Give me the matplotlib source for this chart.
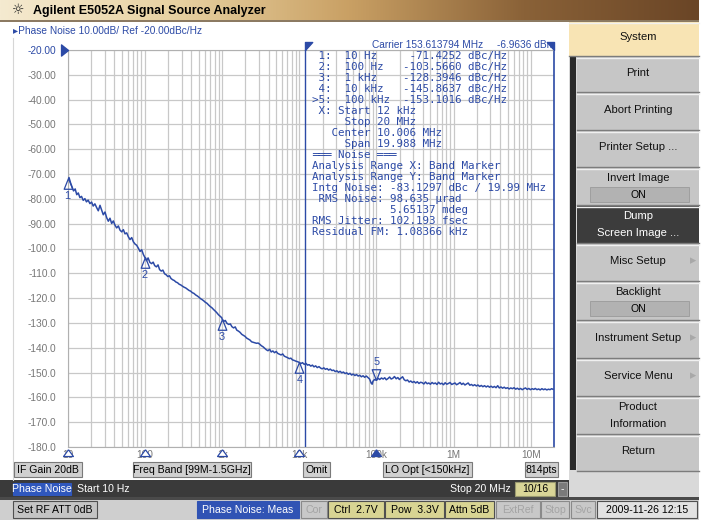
import numpy as np
import matplotlib
matplotlib.use('Agg')
import matplotlib.pyplot as plt
from matplotlib.patches import Rectangle
from matplotlib.path import Path
from matplotlib.colors import LinearSegmentedColormap

plt.rcParams['font.family'] = ['Liberation Sans', 'DejaVu Sans']

# phase noise trace (offset in Hz, level in dBc/Hz)
offset_hz = [
    10.0, 10.4, 10.9, 11.4, 11.9, 12.5, 13.1, 13.7, 14.4, 15.1, 15.9, 16.7,
    17.5, 18.4, 19.4, 20.4, 21.4, 22.5, 23.7, 24.9, 26.2, 27.5, 28.9, 30.4,
    32.0, 33.6, 35.3, 37.1, 39.0, 41.0, 43.1, 45.3, 47.6, 50.1, 52.6, 55.3,
    58.1, 61.1, 64.2, 67.5, 70.9, 74.5, 78.3, 82.3, 86.5, 90.9, 95.5, 100.0,
    105, 110, 116, 122, 128, 134, 141, 148, 155, 163, 171, 180, 189, 198,
    208, 218, 229, 240, 252, 265, 278, 292, 307, 322, 338, 355, 373, 392,
    411, 432, 454, 476, 500, 525, 551, 579, 608, 638, 670, 703, 739, 776,
    814, 855, 898, 943, 990, 1000,
    1050, 1100, 1160, 1220, 1280, 1340, 1410, 1480, 1550, 1630, 1710, 1800,
    1890, 1980, 2080, 2190, 2300, 2410, 2530, 2660, 2790, 2930, 3080, 3230,
    3390, 3560, 3740, 3930, 4130, 4330, 4550, 4780, 5020, 5270, 5530, 5810,
    6100, 6400, 6720, 7060, 7410, 7780, 8170, 8580, 9010, 9460, 10000,
    10500, 11000, 11600, 12200, 12800, 13400, 14100, 14800, 15500, 16300,
    17100, 18000, 18900, 19800, 20800, 21800, 22900, 24000, 25200, 26500,
    27800, 29200, 30700, 32200, 33800, 35500, 37300, 39200, 41100, 43200,
    45400, 47600, 50000, 52500, 55100, 57900, 60800, 63800, 67000, 70300,
    73900, 77600, 81400, 85500, 88000, 90000, 94300, 100000,
    105e3, 110e3, 116e3, 122e3, 128e3, 134e3, 141e3, 148e3, 155e3, 163e3,
    171e3, 180e3, 189e3, 198e3, 208e3, 218e3, 229e3, 240e3, 252e3, 265e3,
    278e3, 292e3, 307e3, 322e3, 338e3, 355e3, 373e3, 392e3, 411e3, 432e3,
    454e3, 476e3, 500e3, 525e3, 551e3, 579e3, 608e3, 638e3, 670e3, 703e3,
    739e3, 776e3, 814e3, 855e3, 898e3, 943e3, 990e3,
    1.04e6, 1.09e6, 1.15e6, 1.21e6, 1.27e6, 1.33e6, 1.40e6, 1.47e6, 1.54e6,
    1.62e6, 1.70e6, 1.78e6, 1.87e6, 1.97e6, 2.06e6, 2.17e6, 2.28e6, 2.39e6,
    2.51e6, 2.64e6, 2.77e6, 2.91e6, 3.05e6, 3.21e6, 3.37e6, 3.54e6, 3.72e6,
    3.90e6, 4.10e6, 4.30e6, 4.52e6, 4.74e6, 4.98e6, 5.23e6, 5.49e6, 5.77e6,
    6.06e6, 6.36e6, 6.68e6, 7.01e6, 7.36e6, 7.73e6, 8.12e6, 8.52e6, 8.95e6,
    9.40e6, 9.87e6, 10.4e6, 10.9e6, 11.4e6, 12.0e6, 12.6e6, 13.2e6, 13.9e6,
    14.6e6, 15.3e6, 16.1e6, 16.9e6, 17.7e6, 18.6e6, 19.5e6, 20.0e6,
]
noise_dbc = [
    -72.3, -71.4, -73.6, -75.2, -76.8, -76.0, -78.3, -77.6, -79.5, -79.0, -80.6, -79.9,
    -81.2, -80.5, -81.9, -81.3, -82.9, -82.0, -83.5, -84.8, -82.6, -84.5, -86.4, -85.3,
    -87.6, -89.0, -87.8, -89.9, -88.9, -90.6, -91.7, -90.9, -92.6, -93.3, -92.4, -94.1,
    -93.7, -95.3, -96.4, -95.6, -97.3, -98.2, -98.7, -99.9, -101.2, -100.5, -102.4, -103.6,
    -104.9, -103.8, -105.6, -106.1, -105.5, -106.9, -107.4, -106.6, -108.5, -109.1, -108.7, -110.2, -110.6, -111.3,
    -111.0, -112.1, -112.6, -112.9, -113.5, -113.8, -114.4, -114.7, -115.2, -115.6, -115.9, -116.4, -116.9, -117.2,
    -117.8, -118.1, -118.7, -119.1, -119.6, -120.2, -120.6, -121.1, -121.7, -122.1, -122.8, -123.4, -123.9, -124.6,
    -125.2, -125.9, -126.7, -127.3, -127.9, -128.4,
    -129.4, -129.0, -130.2, -130.6, -130.4, -131.5, -132.0, -131.6, -132.9, -133.3, -133.8, -134.6,
    -135.0, -135.4, -136.1, -136.5, -136.9, -137.6, -137.8, -138.0, -138.2, -138.1, -138.6, -139.2,
    -139.6, -140.2, -140.8, -141.2, -140.6, -141.7, -141.3, -142.0, -141.5, -142.3, -142.6, -142.9,
    -142.5, -143.4, -143.7, -144.0, -144.4, -144.2, -144.9, -145.1, -145.4, -145.6, -145.9,
    -146.4, -146.0, -146.7, -146.3, -147.0, -146.8, -147.4, -147.0, -147.7, -147.3,
    -148.0, -147.6, -148.2, -148.5, -148.1, -148.7, -148.4, -149.0, -148.6, -149.2,
    -149.0, -149.6, -149.3, -149.9, -149.5, -150.1, -149.8, -150.4, -150.1, -150.7,
    -150.3, -151.0, -150.6, -151.2, -150.8, -151.4, -151.1, -151.7, -151.3, -151.9,
    -151.4, -152.0, -152.6, -154.3, -154.7, -153.5, -152.8, -153.1,
    -152.3, -152.8, -152.2, -152.6, -152.1, -152.9, -152.4, -151.8, -152.6, -152.3,
    -151.6, -152.5, -152.0, -152.8, -152.2, -151.7, -152.9, -153.3, -153.0, -153.8,
    -153.4, -154.0, -153.6, -154.2, -153.7, -154.4, -153.9, -154.1, -154.6, -153.8,
    -154.5, -154.2, -154.7, -154.0, -154.5, -154.2, -154.8, -153.9, -154.6, -154.3,
    -154.9, -154.1, -154.7, -154.4, -154.0, -154.8, -154.5,
    -154.2, -154.9, -154.5, -154.0, -154.8, -154.3, -155.0, -154.6, -154.2,
    -155.1, -154.8, -155.3, -154.9, -155.4, -155.0, -155.6, -155.2, -155.7,
    -155.3, -155.8, -155.4, -155.9, -155.5, -156.0, -155.6, -156.1, -155.3,
    -156.2, -155.8, -156.3, -155.9, -156.4, -156.1, -156.6, -156.2, -156.5,
    -156.1, -156.7, -156.3, -156.8, -156.4, -156.9, -156.5, -156.2, -156.8,
    -156.4, -156.9, -156.5, -156.8, -156.4, -156.9, -156.6, -157.0, -156.5,
    -156.9, -156.6, -157.0, -156.7, -156.9, -156.5, -156.8, -156.7,
]

marker_hz = [10, 100, 1e3, 10e3, 100e3]
marker_dbc = [-71.4252, -103.5660, -128.3946, -145.8637, -153.1016]
marker_name = ['10 Hz', '100 Hz', '1 kHz', '10 kHz', '100 kHz']
active_marker = 5

range_start_hz = 12e3
range_stop_hz = 20e6
ref_level = -20.0
bottom_level = -180.0
x_ticks = [10, 100, 1e3, 1e4, 1e5, 1e6, 1e7]
x_tick_labels = ['10', '100', '1k', '10k', '100k', '1M', '10M']
y_ticks = [-20, -30, -40, -50, -60, -70, -80, -90, -100,
           -110, -120, -130, -140, -150, -160, -170, -180]

noise_lines = [
    '   Center 10.006 MHz',
    '     Span 19.988 MHz',
    '═══ Noise ═══',
    'Analysis Range X: Band Marker',
    'Analysis Range Y: Band Marker',
    'Intg Noise: -83.1297 dBc / 19.99 MHz',
    ' RMS Noise: 98.635 µrad',
    '            5.65137 mdeg',
    'RMS Jitter: 102.193 fsec',
    'Residual FM: 1.08366 kHz',
]

W, H = 711, 520
BLUE = '#2c4aa6'
GRAY_TXT = '#777777'
UI = 7.6
KEY = 8.1


def rect(a, x0, y0, x1, y1, fc, ec='none', lw=0.8, z=1):
    a.add_patch(Rectangle((x0, y0), x1 - x0, y1 - y0, facecolor=fc,
                          edgecolor=ec, linewidth=lw, zorder=z))


def box(a, x0, y0, x1, y1, text, fc='#d0d0d0', tc='black', ec='#7a7a7a'):
    rect(a, x0, y0, x1, y1, fc, ec, 0.8, 2)
    a.text((x0 + x1) / 2, (y0 + y1) / 2 + 0.5, text, ha='center', va='center',
           fontsize=UI, color=tc, zorder=3)


fig = plt.figure(figsize=(W / 100, H / 100), dpi=100)
fig.patch.set_facecolor('white')
bg = fig.add_axes([0, 0, 1, 1])
bg.axis('off')

# title bar
grad = LinearSegmentedColormap.from_list(
    'title', ['#f5ead0', '#e8d2a2', '#c9a064', '#8a6238', '#6a4526'])
bg.imshow(np.linspace(0, 1, 256)[None, :], cmap=grad,
          extent=(0, 699, 20, 0), aspect='auto', zorder=1)
bg.set_xlim(0, W)
bg.set_ylim(H, 0)
bg.text(18, 10.5, '☼', family=['DejaVu Sans'], fontsize=10, ha='center',
        va='center', color='#222222', zorder=3)
bg.text(33, 11, 'Agilent E5052A Signal Source Analyzer', fontsize=9.0,
        weight='bold', va='center', zorder=3)
rect(bg, 0, 20, 699, 22, '#8c7a62', z=2)

# main white panel and its frame
rect(bg, 0, 22, 569, 480, 'white', z=1)
bg.plot([12.5, 12.5], [38, 480], color='#d6d6d6', lw=0.8, zorder=2)
bg.text(13, 31.5, '▸Phase Noise 10.00dB/ Ref -20.00dBc/Hz', fontsize=7.3,
        color=BLUE, va='center', zorder=3)

# status boxes under the graph
box(bg, 14, 462, 82, 477, 'IF Gain 20dB')
box(bg, 133, 462, 251, 477, 'Freq Band [99M-1.5GHz]')
box(bg, 303, 462, 330, 477, 'Omit')
box(bg, 383, 462, 472, 477, 'LO Opt [<150kHz]')
box(bg, 525, 462, 558, 477, '814pts')

# channel bar
rect(bg, 0, 480, 569, 497, '#3a3a3a', z=1)
box(bg, 13, 483, 71, 495, 'Phase Noise', fc='#2f57bd', tc='white', ec='#2f57bd')
bg.text(77, 489.5, 'Start 10 Hz', fontsize=UI, color='white', va='center', zorder=3)
bg.text(511, 489.5, 'Stop 20 MHz', fontsize=UI, color='white', va='center',
        ha='right', zorder=3)
box(bg, 515, 482, 555, 496, '10/16', fc='#d9d597', ec='#9a9a70')
box(bg, 558, 482, 567, 496, '-', fc='#7a7a7a', tc='white', ec='#9a9a9a')

# bottom status line
rect(bg, 0, 497, 699, 520, '#cfcfcf', z=1)
rect(bg, 0, 497, 699, 499.5, '#4a4a4a', z=1)
box(bg, 13, 501, 97, 518, 'Set RF ATT 0dB', fc='#c4c4c4', ec='#505050')
box(bg, 197, 501, 299, 518, 'Phase Noise: Meas', fc='#3053b4', tc='white', ec='#3053b4')
box(bg, 301, 501, 327, 518, 'Cor', fc='#c8c8c8', tc='#a4a4a4', ec='#8a8a8a')
box(bg, 328, 501, 384, 518, 'Ctrl  2.7V', fc='#d8d493', ec='#505050')
box(bg, 385, 501, 444, 518, 'Pow  3.3V', fc='#d8d493', ec='#505050')
box(bg, 445, 501, 494, 518, 'Attn 5dB', fc='#d8d493', ec='#505050')
box(bg, 496, 501, 540, 518, 'ExtRef', fc='#c8c8c8', tc='#a4a4a4', ec='#8a8a8a')
box(bg, 541, 501, 569, 518, 'Stop', fc='#c8c8c8', tc='#a4a4a4', ec='#8a8a8a')
box(bg, 571, 501, 595, 518, 'Svc', fc='#c8c8c8', tc='#a4a4a4', ec='#8a8a8a')
box(bg, 597, 501, 697, 518, '2009-11-26 12:15', fc='#e2e2e2', ec='#505050')

# softkey panel
rect(bg, 569, 22, 699, 497, '#d9d9d9', z=1)
rect(bg, 570, 56, 576, 470, '#2a2a2a', z=2)
keys = [
    (22, 56, ['System'], 'head'),
    (57, 92, ['Print'], 'key'),
    (93, 130, ['Abort Printing'], 'key'),
    (131, 167, ['Printer Setup ...'], 'key'),
    (168, 205, ['Invert Image'], 'toggle'),
    (206, 243, ['Dump', 'Screen Image ...'], 'dark'),
    (244, 281, ['Misc Setup'], 'sub'),
    (282, 320, ['Backlight'], 'toggle'),
    (321, 358, ['Instrument Setup'], 'sub'),
    (359, 396, ['Service Menu'], 'sub'),
    (397, 434, ['Product', 'Information'], 'key'),
    (435, 471, ['Return'], 'key'),
]
for (y0, y1, lines, kind) in keys:
    x0 = 569 if kind == 'head' else 577
    fc = {'head': '#f8e4b4', 'dark': '#3c3c3c'}.get(kind, '#c6c6c6')
    tc = 'white' if kind == 'dark' else '#111111'
    rect(bg, x0, y0, 699, y1, fc, z=2)
    bg.plot([x0, 699], [y0 + 0.5, y0 + 0.5], color='#f0f0f0', lw=1, zorder=3)
    bg.plot([x0, 699], [y1 - 0.5, y1 - 0.5], color='#7c7c7c', lw=1, zorder=3)
    mid = 638
    if kind == 'toggle':
        bg.text(mid, y0 + 10, lines[0], fontsize=KEY, color=tc,
                ha='center', va='center', zorder=4)
        rect(bg, 590, y0 + 19, 689, y0 + 34, '#b2b2b2', '#9a9a9a', 0.6, 3)
        bg.text(mid, y0 + 27, 'ON', fontsize=UI, ha='center', va='center', zorder=4)
    elif len(lines) == 2:
        bg.text(mid, y0 + 10, lines[0], fontsize=KEY, color=tc,
                ha='center', va='center', zorder=4)
        bg.text(mid, y0 + 27, lines[1], fontsize=KEY, color=tc,
                ha='center', va='center', zorder=4)
    else:
        bg.text(mid, (y0 + y1) / 2 - 1.5, lines[0], fontsize=KEY, color=tc,
                ha='center', va='center', zorder=4)
    if kind == 'sub':
        bg.text(693, (y0 + y1) / 2 - 1.5, '▸', family=['DejaVu Sans'], fontsize=9,
                color='#a8a8a8', ha='center', va='center', zorder=4)

# graph
L, R, T, B = 67.7, 554.1, 50.0, 447.0
ax = fig.add_axes([L / W, 1 - B / H, (R - L) / W, (B - T) / H], zorder=2)
ax.set_facecolor('white')
ax.set_xscale('log')
ax.set_xlim(offset_hz[0], range_stop_hz)
ax.set_ylim(bottom_level, ref_level)
ax.set_xticks(x_ticks)
ax.set_xticklabels(x_tick_labels)
ax.xaxis.set_minor_locator(matplotlib.ticker.LogLocator(base=10, subs=np.arange(2, 10)))
ax.xaxis.set_minor_formatter(matplotlib.ticker.NullFormatter())
ax.set_yticks(y_ticks)
ax.set_yticklabels(['%.2f' % v if v > -100 else '%.1f' % v for v in y_ticks])
ax.tick_params(which='both', length=0, labelsize=7.3, labelcolor=GRAY_TXT)
ax.tick_params(axis='y', pad=8)
ax.tick_params(axis='x', pad=2)
ax.get_yticklabels()[0].set_color(BLUE)
ax.grid(True, which='both', color='#c8c8c8', lw=0.9)
ax.set_axisbelow(True)
for s in ('left', 'top', 'bottom'):
    ax.spines[s].set_color('#b0b0b0')
ax.spines['right'].set_color(BLUE)
ax.spines['right'].set_linewidth(1.2)

ax.plot(offset_hz, noise_dbc, color=BLUE, lw=1.1, zorder=3)
ax.axvline(range_start_hz, color=BLUE, lw=1.0, zorder=3)

# markers on the trace
up = Path([(0, 0), (-0.4, -1), (0.4, -1), (0, 0)])
down = Path([(0, 0), (-0.4, 1), (0.4, 1), (0, 0)])
for i, (f, v) in enumerate(zip(marker_hz, marker_dbc), start=1):
    active = (i == active_marker)
    ax.plot([f], [v], marker=down if active else up, ms=15.5, mfc='none',
            mec=BLUE, mew=0.9, clip_on=False, zorder=4)
    ax.annotate(str(i), (f, v), xytext=(0, 18 if active else -18),
                textcoords='offset pixels', ha='center', va='center',
                fontsize=7.8, color=BLUE, zorder=4, annotation_clip=False)
    ax.plot([f], [0], transform=ax.get_xaxis_transform(),
            marker=Path([(0, -0.25), (-0.55, -1), (0.55, -1), (0, -0.25)]),
            ms=13, mfc=BLUE if active else 'white', mec=BLUE, mew=0.9,
            clip_on=False, zorder=5)

# reference level pointer and range flags
ax.plot([offset_hz[0]], [ref_level], marker=Path([(0, 0), (-1, 0.8), (-1, -0.8), (0, 0)]),
        ms=10, color=BLUE, clip_on=False, zorder=5)
ax.plot([range_start_hz], [1], transform=ax.get_xaxis_transform(),
        marker=Path([(0, 0), (0, 1), (0.9, 1), (0, 0)]), ms=11.5, color=BLUE,
        clip_on=False, zorder=5)
ax.plot([range_stop_hz], [1], transform=ax.get_xaxis_transform(),
        marker=Path([(0, 0), (0, 1), (-0.9, 1), (0, 0)]), ms=11.5, color=BLUE,
        clip_on=False, zorder=5)

# marker readout on top of the graph
ov = fig.add_axes([0, 0, 1, 1], zorder=6)
ov.patch.set_alpha(0)
ov.axis('off')
ov.set_xlim(0, W)
ov.set_ylim(H, 0)
ov.text(372, 44.5, 'Carrier 153.613794 MHz', fontsize=7.3, color=BLUE, va='center')
ov.text(555, 44.5, '-6.9636 dBm', fontsize=7.3, color=BLUE, va='center', ha='right')
readout = []
for i, (name, v) in enumerate(zip(marker_name, marker_dbc), start=1):
    flag = '>' if i == active_marker else ' '
    readout.append('%s%d:  %-8s%10.4f dBc/Hz' % (flag, i, name, v))
readout.append(' X: Start %d kHz' % (range_start_hz / 1e3))
readout.append('     Stop %d MHz' % (range_stop_hz / 1e6))
readout += noise_lines
for k, line in enumerate(readout):
    ov.text(312.5, 56.5 + k * 10.95, line, family=['DejaVu Sans Mono'],
            fontsize=7.8, color=BLUE, va='center')

fig.savefig('out.png', dpi=100)
